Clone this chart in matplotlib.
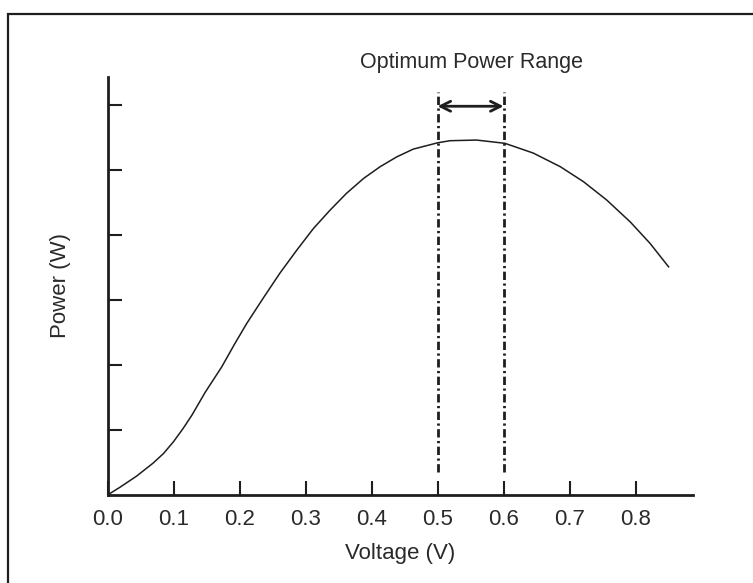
import matplotlib
matplotlib.use('Agg')
import matplotlib.pyplot as plt
from matplotlib.patches import Rectangle

# Power curve (voltage in V, power in tick units)
voltage = [0.0, 0.019, 0.044, 0.069, 0.085, 0.100, 0.115, 0.128, 0.140,
           0.148, 0.173, 0.193, 0.211, 0.236, 0.261, 0.287, 0.312, 0.337,
           0.362, 0.388, 0.413, 0.438, 0.463, 0.501, 0.519, 0.559, 0.602,
           0.645, 0.686, 0.721, 0.756, 0.792, 0.822, 0.850]
power = [0.0, 0.12, 0.29, 0.49, 0.64, 0.82, 1.03, 1.23, 1.44,
         1.58, 1.97, 2.33, 2.64, 3.03, 3.41, 3.77, 4.10, 4.38,
         4.64, 4.87, 5.05, 5.20, 5.32, 5.42, 5.45, 5.46, 5.41,
         5.26, 5.05, 4.82, 4.54, 4.20, 3.87, 3.51]

x_ticks = [0.0, 0.1, 0.2, 0.3, 0.4, 0.5, 0.6, 0.7, 0.8]
y_ticks = [1, 2, 3, 4, 5, 6]
range_lo, range_hi = 0.5, 0.6

ink = '#1e1e1e'
txt = '#2a2a2a'
plt.rcParams['font.family'] = ['Liberation Sans', 'DejaVu Sans']
plt.rcParams['lines.scale_dashes'] = False

fig = plt.figure(figsize=(7.53, 5.83), dpi=100)
ax = fig.add_axes([107.5 / 753, 88 / 583, 585.5 / 753, 418 / 583])

ax.plot(voltage, power, color=ink, lw=1.1, solid_joinstyle='round')

# optimum range markers
for xv in (range_lo, range_hi):
    ax.plot([xv, xv], [0.35, 6.2], color=ink, lw=2.0,
            dashes=(6, 2.5, 1.6, 2.5), clip_on=False)
ax.annotate('', xy=(range_lo, 5.98), xytext=(range_hi, 5.98),
            arrowprops=dict(arrowstyle='<->', lw=2.0, color=ink,
                            shrinkA=0, shrinkB=0, mutation_scale=18),
            annotation_clip=False)
ax.text(0.552, 6.57, 'Optimum Power Range',
        ha='center', va='baseline', fontsize=15.5, color=txt, clip_on=False)

ax.set_xlim(0, 0.887)
ax.set_ylim(0, 6.43)
ax.set_xticks(x_ticks)
ax.set_xticklabels([f'{v:.1f}' for v in x_ticks])
ax.set_yticks(y_ticks)
ax.set_yticklabels([])
ax.tick_params(direction='in', length=10, width=1.5, color=ink,
               labelsize=16, labelcolor=txt)
ax.tick_params(axis='x', pad=10)
for side in ('top', 'right'):
    ax.spines[side].set_visible(False)
for side in ('left', 'bottom'):
    ax.spines[side].set_color(ink)
    ax.spines[side].set_linewidth(2.0)

ax.set_xlabel('Voltage (V)', fontsize=16, color=txt)
ax.xaxis.set_label_coords(0.5, -0.1146)
ax.xaxis.label.set_va('top')
ax.set_ylabel('Power (W)', fontsize=16, color=txt)
ax.yaxis.set_label_coords(-0.063, 0.5)

# frame around the whole figure (runs off the right and bottom edges)
fig.add_artist(Rectangle((8 / 753, -0.1), 1.5, 1 - 14 / 583 + 0.1,
                         transform=fig.transFigure, fill=False,
                         lw=1.6, edgecolor=ink))

fig.savefig('out.png', dpi=100)
